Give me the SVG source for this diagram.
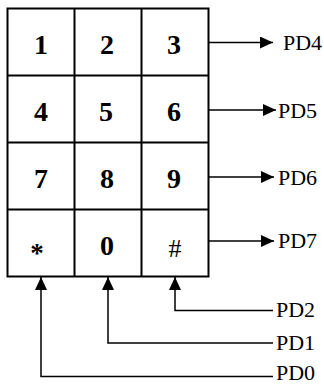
<svg xmlns="http://www.w3.org/2000/svg" width="324" height="385" viewBox="0 0 324 385">
<style>
.g{fill:none;stroke:#000;stroke-width:2}
.w{fill:none;stroke:#000;stroke-width:1.5}
text{font-family:'Liberation Serif','Times New Roman',Times,serif;fill:#000}
.k{font-weight:bold;font-size:28px;text-anchor:middle}
.s{font-size:26px;text-anchor:middle}
.p{font-size:22px}
</style>
<defs>
<marker id="a" viewBox="0 0 13 12" refX="13" refY="6" markerWidth="13" markerHeight="12" markerUnits="userSpaceOnUse" orient="auto">
<path d="M0,0 L13,6 L0,12 Z" fill="#000"/>
</marker>
</defs>
<g id="keypad">
<rect class="g" x="7.5" y="8.5" width="201" height="268"/>
<line class="g" x1="74.5" y1="8.5" x2="74.5" y2="276.5"/>
<line class="g" x1="141.5" y1="8.5" x2="141.5" y2="276.5"/>
<line class="g" x1="7.5" y1="75.5" x2="208.5" y2="75.5"/>
<line class="g" x1="7.5" y1="142.5" x2="208.5" y2="142.5"/>
<line class="g" x1="7.5" y1="209.5" x2="208.5" y2="209.5"/>
</g>
<g id="k1"><text class="k" x="41" y="54">1</text></g>
<g id="k2"><text class="k" x="107" y="54">2</text></g>
<g id="k3"><text class="k" x="174" y="54">3</text></g>
<g id="k4"><text class="k" x="41" y="121">4</text></g>
<g id="k5"><text class="k" x="106" y="121">5</text></g>
<g id="k6"><text class="k" x="174" y="121">6</text></g>
<g id="k7"><text class="k" x="41" y="188">7</text></g>
<g id="k8"><text class="k" x="107" y="188">8</text></g>
<g id="k9"><text class="k" x="174" y="188">9</text></g>
<g id="kstar"><text class="k" x="37" y="262" style="font-size:27px">*</text></g>
<g id="k0"><text class="k" x="107" y="255">0</text></g>
<g id="khash"><text class="s" x="175" y="257">#</text></g>
<g id="connectors">
<line class="w" x1="208" y1="42.5" x2="273" y2="42.5" marker-end="url(#a)"/>
<line class="w" x1="208" y1="110" x2="276" y2="110" marker-end="url(#a)"/>
<line class="w" x1="208" y1="177" x2="274" y2="177" marker-end="url(#a)"/>
<line class="w" x1="208" y1="241" x2="274" y2="241" marker-end="url(#a)"/>
<polyline class="w" points="273,310.5 175,310.5 175,277" marker-end="url(#a)"/>
<polyline class="w" points="273,343 108,343 108,277" marker-end="url(#a)"/>
<polyline class="w" points="273,376.5 41,376.5 41,277" marker-end="url(#a)"/>
</g>
<g id="labels">
<text class="p" x="283" y="50">PD4</text>
<text class="p" x="278" y="118">PD5</text>
<text class="p" x="278" y="185">PD6</text>
<text class="p" x="278" y="248">PD7</text>
<text class="p" x="276" y="317">PD2</text>
<text class="p" x="276" y="350">PD1</text>
<text class="p" x="276" y="380">PD0</text>
</g>
</svg>
